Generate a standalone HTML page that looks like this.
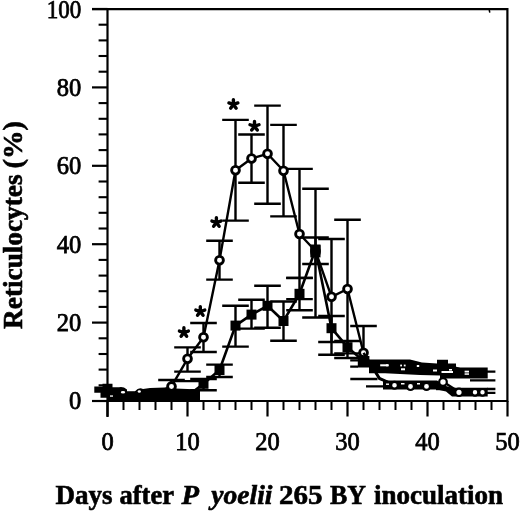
<!DOCTYPE html>
<html><head><meta charset="utf-8"><style>
html,body{margin:0;padding:0;background:#fff;width:520px;height:515px;overflow:hidden}
svg{display:block;will-change:transform}
</style></head><body>
<svg width="520" height="515" viewBox="0 0 520 515">
<g font-family="Liberation Serif" font-size="24.5" fill="#000" stroke="#000" stroke-width="0.75"><text x="81.3" y="409.3" text-anchor="end">0</text><text x="81.3" y="330.9" text-anchor="end">20</text><text x="81.3" y="252.5" text-anchor="end">40</text><text x="81.3" y="174.1" text-anchor="end">60</text><text x="81.3" y="95.7" text-anchor="end">80</text><text x="81.3" y="18.1" text-anchor="end" textLength="34.5" lengthAdjust="spacingAndGlyphs">100</text><text x="107.5" y="449.5" text-anchor="middle">0</text><text x="187.5" y="449.5" text-anchor="middle">10</text><text x="267.5" y="449.5" text-anchor="middle">20</text><text x="347.5" y="449.5" text-anchor="middle">30</text><text x="427.5" y="449.5" text-anchor="middle">40</text><text x="507.5" y="449.5" text-anchor="middle">50</text></g>
<g font-family="Liberation Serif" font-weight="bold" font-size="26.8" fill="#000" stroke="#000" stroke-width="0.6"><text transform="translate(21.7,328.9) rotate(-90)" textLength="154.4" lengthAdjust="spacingAndGlyphs">Reticulocytes</text><text transform="translate(21.7,168.6) rotate(-90)" textLength="47.6" lengthAdjust="spacingAndGlyphs">(%)</text></g>
<g font-family="Liberation Serif" font-weight="bold" font-size="27" fill="#000" stroke="#000" stroke-width="0.6"><text x="55.49" y="504.4" textLength="57.03" lengthAdjust="spacingAndGlyphs">Days</text><text x="119.49" y="504.4" textLength="54.53" lengthAdjust="spacingAndGlyphs">after</text><text x="181.46" y="504.4" textLength="17.55" lengthAdjust="spacingAndGlyphs" font-style="italic">P</text><text x="211.35" y="504.4" textLength="61.19" lengthAdjust="spacingAndGlyphs" font-style="italic">yoelii</text><text x="278.95" y="504.4" textLength="43.59" lengthAdjust="spacingAndGlyphs">265</text><text x="329.97" y="504.4" textLength="36.04" lengthAdjust="spacingAndGlyphs">BY</text><text x="374.00" y="504.4" textLength="129.00" lengthAdjust="spacingAndGlyphs">inoculation</text></g>
<path d="M92 9.2H507.4V401H92" fill="none" stroke="#000" stroke-width="2.2"/><path d="M107.5 9.2V417" stroke="#000" stroke-width="2.2"/><path d="M489.2 9.5L489.8 12.6" stroke="#000" stroke-width="1.5"/><path d="M92 401.0H107.5" stroke="#000" stroke-width="2.2"/><path d="M98.6 385.3H107.5" stroke="#000" stroke-width="2.1"/><path d="M98.6 369.6H107.5" stroke="#000" stroke-width="2.1"/><path d="M98.6 354.0H107.5" stroke="#000" stroke-width="2.1"/><path d="M98.6 338.3H107.5" stroke="#000" stroke-width="2.1"/><path d="M92 322.6H107.5" stroke="#000" stroke-width="2.2"/><path d="M98.6 306.9H107.5" stroke="#000" stroke-width="2.1"/><path d="M98.6 291.2H107.5" stroke="#000" stroke-width="2.1"/><path d="M98.6 275.6H107.5" stroke="#000" stroke-width="2.1"/><path d="M98.6 259.9H107.5" stroke="#000" stroke-width="2.1"/><path d="M92 244.2H107.5" stroke="#000" stroke-width="2.2"/><path d="M98.6 228.5H107.5" stroke="#000" stroke-width="2.1"/><path d="M98.6 212.8H107.5" stroke="#000" stroke-width="2.1"/><path d="M98.6 197.2H107.5" stroke="#000" stroke-width="2.1"/><path d="M98.6 181.5H107.5" stroke="#000" stroke-width="2.1"/><path d="M92 165.8H107.5" stroke="#000" stroke-width="2.2"/><path d="M98.6 150.1H107.5" stroke="#000" stroke-width="2.1"/><path d="M98.6 134.4H107.5" stroke="#000" stroke-width="2.1"/><path d="M98.6 118.8H107.5" stroke="#000" stroke-width="2.1"/><path d="M98.6 103.1H107.5" stroke="#000" stroke-width="2.1"/><path d="M92 87.4H107.5" stroke="#000" stroke-width="2.2"/><path d="M98.6 71.7H107.5" stroke="#000" stroke-width="2.1"/><path d="M98.6 56.0H107.5" stroke="#000" stroke-width="2.1"/><path d="M98.6 40.4H107.5" stroke="#000" stroke-width="2.1"/><path d="M98.6 24.7H107.5" stroke="#000" stroke-width="2.1"/><path d="M92 9.0H107.5" stroke="#000" stroke-width="2.2"/><path d="M107.5 401V416.5" stroke="#000" stroke-width="2.2"/><path d="M123.5 401V410" stroke="#000" stroke-width="2"/><path d="M139.5 401V410" stroke="#000" stroke-width="2"/><path d="M155.5 401V410" stroke="#000" stroke-width="2"/><path d="M171.5 401V410" stroke="#000" stroke-width="2"/><path d="M187.5 401V416.5" stroke="#000" stroke-width="2.2"/><path d="M203.5 401V410" stroke="#000" stroke-width="2"/><path d="M219.5 401V410" stroke="#000" stroke-width="2"/><path d="M235.5 401V410" stroke="#000" stroke-width="2"/><path d="M251.5 401V410" stroke="#000" stroke-width="2"/><path d="M267.5 401V416.5" stroke="#000" stroke-width="2.2"/><path d="M283.5 401V410" stroke="#000" stroke-width="2"/><path d="M299.5 401V410" stroke="#000" stroke-width="2"/><path d="M315.5 401V410" stroke="#000" stroke-width="2"/><path d="M331.5 401V410" stroke="#000" stroke-width="2"/><path d="M347.5 401V416.5" stroke="#000" stroke-width="2.2"/><path d="M363.5 401V410" stroke="#000" stroke-width="2"/><path d="M379.5 401V410" stroke="#000" stroke-width="2"/><path d="M395.5 401V410" stroke="#000" stroke-width="2"/><path d="M411.5 401V410" stroke="#000" stroke-width="2"/><path d="M427.5 401V416.5" stroke="#000" stroke-width="2.2"/><path d="M443.5 401V410" stroke="#000" stroke-width="2"/><path d="M459.5 401V410" stroke="#000" stroke-width="2"/><path d="M475.5 401V410" stroke="#000" stroke-width="2"/><path d="M491.5 401V410" stroke="#000" stroke-width="2"/><path d="M507.5 401V416.5" stroke="#000" stroke-width="2.2"/><path d="M203.5 383.8V379.0M190.2 379.0H216.8M203.5 383.8V390.3M190.2 390.3H216.8M219.5 370.0V364.6M206.2 364.6H232.8M219.5 370.0V377.0M206.2 377.0H232.8M235.5 325.6V305.8M222.2 305.8H248.8M235.5 325.6V346.6M222.2 346.6H248.8M251.5 314.6V299.7M238.2 299.7H264.8M251.5 314.6V328.6M238.2 328.6H264.8M267.5 305.8V285.7M254.2 285.7H280.8M267.5 305.8V327.7M254.2 327.7H280.8M283.5 321.0V301.5M270.2 301.5H296.8M283.5 321.0V340.8M270.2 340.8H296.8M299.5 293.8V277.9M286.2 277.9H312.8M299.5 293.8V310.3M286.2 310.3H312.8M315.5 249.5V237.5M302.2 237.5H328.8M315.5 249.5V264.0M302.2 264.0H328.8M331.5 328.2V316.0M318.2 316.0H344.8M331.5 328.2V342.0M318.2 342.0H344.8M347.5 347.2V341.0M334.2 341.0H360.8M347.5 347.2V353.4M334.2 353.4H360.8" fill="none" stroke="#000" stroke-width="2.4"/><path d="M171.5 386.4V380.0M158.2 380.0H184.8M187.5 358.8V347.4M174.2 347.4H200.8M187.5 358.8V371.6M174.2 371.6H200.8M203.5 337.2V323.0M190.2 323.0H216.8M203.5 337.2V352.0M190.2 352.0H216.8M219.5 260.2V240.8M206.2 240.8H232.8M219.5 260.2V279.6M206.2 279.6H232.8M235.5 170.3V119.9M222.2 119.9H248.8M235.5 170.3V220.6M222.2 220.6H248.8M251.5 158.5V134.5M238.2 134.5H264.8M251.5 158.5V182.7M238.2 182.7H264.8M267.5 153.8V105.6M254.2 105.6H280.8M267.5 153.8V203.7M254.2 203.7H280.8M283.5 170.8V124.9M270.2 124.9H296.8M283.5 170.8V216.4M270.2 216.4H296.8M299.5 234.0V168.9M286.2 168.9H312.8M299.5 234.0V278.0M286.2 278.0H312.8M315.5 251.0V188.7M302.2 188.7H328.8M315.5 251.0V317.5M302.2 317.5H328.8M331.5 296.8V239.0M318.2 239.0H344.8M331.5 296.8V354.8M318.2 354.8H344.8M347.5 289.0V219.8M334.2 219.8H360.8M347.5 289.0V358.0M334.2 358.0H360.8M363.5 352.8V326.0M350.2 326.0H376.8" fill="none" stroke="#000" stroke-width="2.4"/><path d="M286.2 299.1H312.8M174.2 381.2H200.8" stroke="#000" stroke-width="2.3"/><polyline points="107.5,388.8 123.5,396.5 139.5,396.5 155.5,396.5 171.5,396.5 187.5,396.0 203.5,383.8 219.5,370.0 235.5,325.6 251.5,314.6 267.5,305.8 283.5,321.0 299.5,293.8 315.5,249.5 331.5,328.2 347.5,347.2 363.5,361.0 379.5,365.0 395.5,366.5 411.5,367.0 427.5,367.0 443.5,364.5 459.5,369.0 475.5,370.0 483.5,371.0" fill="none" stroke="#000" stroke-width="2.6" stroke-linejoin="round"/><polyline points="107.5,391.5 123.5,393.3 139.5,393.0 155.5,393.0 171.5,386.4 187.5,358.8 203.5,337.2 219.5,260.2 235.5,170.3 251.5,158.5 267.5,153.8 283.5,170.8 299.5,234.0 315.5,251.0 331.5,296.8 347.5,289.0 363.5,352.8 379.5,379.0 395.5,385.2 411.5,386.0 427.5,386.2 443.5,382.0 459.5,392.3 475.5,392.3 483.5,392.3" fill="none" stroke="#000" stroke-width="2.4" stroke-linejoin="round"/><path d="M94.3,386.5 L102.5,386.5 L102.5,383.8 L112.5,383.8 L112.5,387.3 L119,387.3 Q123,386.2 127,389.5 L127,391.3 L135,391.3 Q139,386.5 143,389 L150,388 L165,387.5 L175,388.5 L200,389.5 L200,400 L107.5,400 L107.5,397.8 L100.5,397.8 L100.5,392.8 L94.3,392.8 Z" fill="#000"/><ellipse cx="123" cy="392.3" rx="2.2" ry="1.3" fill="#fff"/><ellipse cx="139.3" cy="391.5" rx="1.6" ry="1.3" fill="#fff"/><rect x="110" y="395.4" width="3" height="1.3" fill="#fff"/><circle cx="171.5" cy="386.4" r="3.9" fill="#fff" stroke="#000" stroke-width="2.85"/><circle cx="187.5" cy="358.8" r="3.9" fill="#fff" stroke="#000" stroke-width="2.85"/><circle cx="203.5" cy="337.2" r="3.9" fill="#fff" stroke="#000" stroke-width="2.85"/><circle cx="219.5" cy="260.2" r="3.9" fill="#fff" stroke="#000" stroke-width="2.85"/><circle cx="235.5" cy="170.3" r="3.9" fill="#fff" stroke="#000" stroke-width="2.85"/><circle cx="251.5" cy="158.5" r="3.9" fill="#fff" stroke="#000" stroke-width="2.85"/><circle cx="267.5" cy="153.8" r="3.9" fill="#fff" stroke="#000" stroke-width="2.85"/><circle cx="283.5" cy="170.8" r="3.9" fill="#fff" stroke="#000" stroke-width="2.85"/><circle cx="299.5" cy="234.0" r="3.9" fill="#fff" stroke="#000" stroke-width="2.85"/><circle cx="315.5" cy="251.0" r="3.9" fill="#fff" stroke="#000" stroke-width="2.85"/><circle cx="331.5" cy="296.8" r="3.9" fill="#fff" stroke="#000" stroke-width="2.85"/><circle cx="347.5" cy="289.0" r="3.9" fill="#fff" stroke="#000" stroke-width="2.85"/><circle cx="363.5" cy="352.8" r="3.9" fill="#fff" stroke="#000" stroke-width="2.85"/><rect x="198.5" y="378.8" width="10" height="10" fill="#000"/><rect x="214.5" y="365.0" width="10" height="10" fill="#000"/><rect x="230.5" y="320.6" width="10" height="10" fill="#000"/><rect x="246.5" y="309.6" width="10" height="10" fill="#000"/><rect x="262.5" y="300.8" width="10" height="10" fill="#000"/><rect x="278.5" y="316.0" width="10" height="10" fill="#000"/><rect x="294.5" y="288.8" width="10" height="10" fill="#000"/><rect x="310.5" y="244.5" width="10" height="10" fill="#000"/><rect x="326.5" y="323.2" width="10" height="10" fill="#000"/><rect x="342.5" y="342.2" width="10" height="10" fill="#000"/><rect x="310.3" y="245.2" width="10.2" height="12.2" fill="#000"/>
<path d="M357.8,356 L369.4,356 L369.4,359.5 L410,359.5 L422,362.5 L437,363.5 L437,359.7 L448,359.7 L448,363.5 L456,363.5 L456,367.4 L487.7,367.4 L487.7,378.5 L440,378.5 L440,375.5 L420,375 L385,373.3 L369,373.3 L369,367.5 L357.8,367.5 Z" fill="#000"/>
<path d="M350.2 360.4H358M350.2 366.6H358M350.3 379H377.5M487 371.7H495.4M470 380.3H495.4M366 386.3H388.8M487 389H495.4M487 392.8H495.4" stroke="#000" stroke-width="2.3"/>
<g fill="#fff"><rect x="380.2" y="364.3" width="8.6" height="2"/><rect x="401" y="368.3" width="4" height="2"/><rect x="441.5" y="371" width="11.5" height="2"/><rect x="433" y="369.5" width="4" height="2"/><rect x="464.6" y="370.7" width="4.4" height="1.8"/><rect x="464.6" y="373.3" width="4.4" height="1.5"/><rect x="400.2" y="364.6" width="1.8" height="1.8"/><rect x="403.8" y="364.6" width="1.8" height="1.8"/><rect x="416.8" y="365" width="2.4" height="2"/><rect x="386" y="364.3" width="2" height="2"/><rect x="449" y="369" width="3" height="1.6"/></g>
<path d="M383,380.5 L437,380.5 L446,386 L452,387.8 L487.7,387.8 L487.7,396.5 L452,396.5 L446,391.5 L437,389.5 L383,389.5 Z" fill="#000"/><path d="M436 389.2H460" stroke="#000" stroke-width="2"/>
<polyline points="363.5,352.8 379.5,378 395.5,385.3" fill="none" stroke="#000" stroke-width="2.4"/>
<g fill="#fff" stroke="#000" stroke-width="2.2"><circle cx="394.5" cy="385.3" r="3.4"/><circle cx="410.5" cy="386.5" r="3.5"/><circle cx="426.5" cy="386.4" r="3.5"/><circle cx="443" cy="382" r="3.8"/><circle cx="459" cy="392.3" r="3.7"/><circle cx="475" cy="392.3" r="3.3"/><circle cx="482.5" cy="392.3" r="3.3"/></g>
<g fill="#fff"><rect x="401" y="383" width="3.5" height="1.5"/><rect x="417" y="383" width="3" height="1.5"/><rect x="386" y="383.5" width="3" height="1.4"/></g>
<path d="M183.9 332.5L183.90 327.80M183.9 332.5L179.43 331.05M183.9 332.5L181.14 336.30M183.9 332.5L186.66 336.30M183.9 332.5L188.37 331.05" stroke="#000" stroke-width="3.4" stroke-linecap="round"/><circle cx="183.9" cy="332.5" r="2.2" fill="#000"/><path d="M200.3 311.5L200.30 306.80M200.3 311.5L195.83 310.05M200.3 311.5L197.54 315.30M200.3 311.5L203.06 315.30M200.3 311.5L204.77 310.05" stroke="#000" stroke-width="3.4" stroke-linecap="round"/><circle cx="200.3" cy="311.5" r="2.2" fill="#000"/><path d="M216.4 222.5L216.40 217.80M216.4 222.5L211.93 221.05M216.4 222.5L213.64 226.30M216.4 222.5L219.16 226.30M216.4 222.5L220.87 221.05" stroke="#000" stroke-width="3.4" stroke-linecap="round"/><circle cx="216.4" cy="222.5" r="2.2" fill="#000"/><path d="M233.4 104.4L233.40 99.70M233.4 104.4L228.93 102.95M233.4 104.4L230.64 108.20M233.4 104.4L236.16 108.20M233.4 104.4L237.87 102.95" stroke="#000" stroke-width="3.4" stroke-linecap="round"/><circle cx="233.4" cy="104.4" r="2.2" fill="#000"/><path d="M254.5 126.2L254.50 121.50M254.5 126.2L250.03 124.75M254.5 126.2L251.74 130.00M254.5 126.2L257.26 130.00M254.5 126.2L258.97 124.75" stroke="#000" stroke-width="3.4" stroke-linecap="round"/><circle cx="254.5" cy="126.2" r="2.2" fill="#000"/>
</svg>
</body></html>
